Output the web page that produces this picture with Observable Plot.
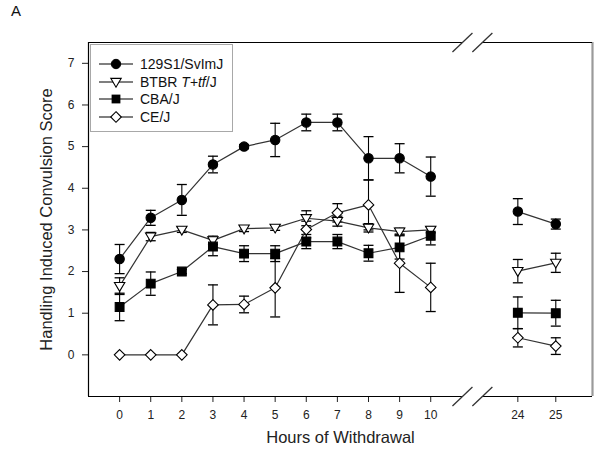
<!DOCTYPE html>
<html>
<head>
<meta charset="utf-8">
<script src="https://cdn.jsdelivr.net/npm/d3@7"></script>
<script src="https://cdn.jsdelivr.net/npm/@observablehq/plot@0.6"></script>
<style>
  body { margin: 0; background: #fff; font-family: "Liberation Sans", Arial, sans-serif; }
  #wrap { position: relative; width: 600px; height: 460px; }
  #panel { position: absolute; left: 11px; top: 2px; font-size: 15px; color: #111; }
  #legend { position: absolute; left: 90px; top: 44px; width: 143px; height: 88px; box-sizing: border-box;
            border: 1.5px solid #a8a8a8; background: #fff; }
  .lrow { position: absolute; left: 0; height: 18px; width: 140px; }
  .lrow svg { position: absolute; left: 8px; top: 0; }
  .lrow span { position: absolute; left: 49px; top: 0; line-height: 18px; font-size: 14px; color: #111; white-space: nowrap; }
</style>
</head>
<body>
<div id="wrap">
  <div id="chart"></div>
  <div id="panel">A</div>
  <div id="legend"></div>
</div>
<script>
// ---- data ----
const hours = [0, 1, 2, 3, 4, 5, 6, 7, 8, 9, 10, 24, 25];
const seriesNames = ["129S1/SvImJ", "BTBR T+tf/J", "CBA/J", "CE/J"];
const s129 = [2.30, 3.29, 3.72, 4.57, 5.00, 5.16, 5.58, 5.58, 4.72, 4.72, 4.28, 3.44, 3.14];
const s129Err = [0.35, 0.18, 0.37, 0.20, 0.05, 0.40, 0.20, 0.20, 0.52, 0.35, 0.47, 0.31, 0.12];
const btbr = [1.65, 2.84, 3.00, 2.75, 3.03, 3.05, 3.28, 3.21, 3.05, 2.96, 3.00, 2.01, 2.21];
const btbrErr = [0.20, 0.10, 0.06, 0.10, 0.07, 0.06, 0.18, 0.12, 0.10, 0.08, 0.07, 0.28, 0.23];
const cba = [1.15, 1.71, 2.00, 2.60, 2.43, 2.43, 2.72, 2.72, 2.44, 2.58, 2.86, 1.01, 1.00];
const cbaErr = [0.33, 0.28, 0.05, 0.22, 0.19, 0.19, 0.17, 0.17, 0.19, 0.28, 0.22, 0.38, 0.31];
const ce = [0, 0, 0, 1.20, 1.21, 1.61, 3.01, 3.41, 3.60, 2.20, 1.62, 0.41, 0.21];
const ceErr = [0, 0, 0, 0.48, 0.20, 0.70, 0.20, 0.22, 0.60, 0.70, 0.58, 0.22, 0.20];
const yTicks = [0, 1, 2, 3, 4, 5, 6, 7];

// broken x axis: hours 0-10 on one segment, 24-25 after the break
const pos = h => h <= 10 ? h : 12.8 + (h - 24) * 1.22;
const xDomain = [-1, 15.2];
const yDomain = [-1, 7.5];
const breakGap = [11.02, 11.66];

const values = [s129, btbr, cba, ce];
const errs = [s129Err, btbrErr, cbaErr, ceErr];
const rows = [];
seriesNames.forEach((s, k) => hours.forEach((h, i) => rows.push({
  series: s, h, xp: pos(h), v: values[k][i], err: errs[k][i],
  lo: values[k][i] - errs[k][i], hi: values[k][i] + errs[k][i],
  seg: s + (h > 10 ? "-b" : "-a")
})));
const tickPos = hours.map(pos);
const tickLabel = new Map(tickPos.map((p, i) => [p, String(hours[i])]));

// ---- symbols ----
const circleSym = { draw(c) { c.moveTo(4.7, 0); c.arc(0, 0, 4.7, 0, 2 * Math.PI); c.closePath(); } };
const squareSym = { draw(c) { c.rect(-4.4, -4.4, 8.8, 8.8); } };
const triDownSym = { draw(c) { c.moveTo(-5.2, -3.6); c.lineTo(5.2, -3.6); c.lineTo(0, 5.2); c.closePath(); } };
const diamondSym = { draw(c) { c.moveTo(0, -5.3); c.lineTo(5.3, 0); c.lineTo(0, 5.3); c.lineTo(-5.3, 0); c.closePath(); } };
const capSym = { draw(c) { c.moveTo(-5, 0); c.lineTo(5, 0); } };
const slashSym = { draw(c) { c.moveTo(-10, 9.5); c.lineTo(10, -9.5); } };
const styles = [
  { sym: circleSym, fill: "black" },
  { sym: triDownSym, fill: "white" },
  { sym: squareSym, fill: "black" },
  { sym: diamondSym, fill: "white" }
];

const errRows = rows.filter(d => d.err > 0);

const chart = Plot.plot({
  width: 600, height: 460,
  marginLeft: 88, marginRight: 8, marginTop: 42, marginBottom: 64,
  style: { fontFamily: "Liberation Sans, Arial, sans-serif", fontSize: "12px", color: "#222", background: "white" },
  x: { domain: xDomain, ticks: tickPos, tickFormat: d => tickLabel.get(d), tickSize: 6, tickPadding: 8, label: null },
  y: { domain: yDomain, ticks: yTicks, tickSize: 6, tickPadding: 8, label: null },
  marks: [
    // frame
    Plot.ruleX([xDomain[0]], { y1: yDomain[0], y2: yDomain[1], stroke: "black", strokeWidth: 1.2 }),
    Plot.ruleX([xDomain[1]], { y1: yDomain[0], y2: yDomain[1], stroke: "#9a9a9a", strokeWidth: 2.2 }),
    Plot.ruleY([yDomain[0], yDomain[1]], { x1: xDomain[0], x2: breakGap[0], stroke: "black", strokeWidth: 1.2 }),
    Plot.ruleY([yDomain[0], yDomain[1]], { x1: breakGap[1], x2: xDomain[1], stroke: "black", strokeWidth: 1.2 }),
    Plot.dot(breakGap.flatMap(x => yDomain.map(y => ({ x, y }))), { x: "x", y: "y", symbol: slashSym, stroke: "#333", strokeWidth: 1.3 }),
    // error bars
    Plot.ruleX(errRows, { x: "xp", y1: "lo", y2: "hi", stroke: "black", strokeWidth: 1.1 }),
    Plot.dot(errRows, { x: "xp", y: "hi", symbol: capSym, stroke: "black", strokeWidth: 1.3 }),
    Plot.dot(errRows, { x: "xp", y: "lo", symbol: capSym, stroke: "black", strokeWidth: 1.3 }),
    // lines
    Plot.line(rows, { x: "xp", y: "v", z: "seg", stroke: "#333", strokeWidth: 1.2 }),
    // markers
    ...seriesNames.map((s, k) => Plot.dot(rows.filter(d => d.series === s), {
      x: "xp", y: "v", symbol: styles[k].sym, fill: styles[k].fill, stroke: "black", strokeWidth: 1.1
    })),
    // axis titles
    Plot.text(["Hours of Withdrawal"], { frameAnchor: "bottom", text: d => d, dy: 46, fontSize: 16.5, fill: "#222" }),
    Plot.text(["Handling Induced Convulsion Score"], { frameAnchor: "left", textAnchor: "middle", text: d => d, dx: -42, rotate: -90, fontSize: 16.5, fill: "#222" })
  ]
});
document.getElementById("chart").appendChild(chart);

// ---- legend ----
const legend = document.getElementById("legend");
const rowTops = [9.5, 27.5, 45.3, 63];
const markerSvg = [
  '<circle cx="17" cy="9" r="4.7" fill="black" stroke="black"/>',
  '<path d="M11.8,5.4 L22.2,5.4 L17,14.2 Z" fill="white" stroke="black" stroke-width="1.1"/>',
  '<rect x="12.6" y="4.6" width="8.8" height="8.8" fill="black"/>',
  '<path d="M17,3.7 L22.3,9 L17,14.3 L11.7,9 Z" fill="white" stroke="black" stroke-width="1.1"/>'
];
const labelHtml = [
  "129S1/SvImJ",
  'BTBR <i>T+tf</i>/J',
  "CBA/J",
  "CE/J"
];
seriesNames.forEach((s, k) => {
  const row = document.createElement("div");
  row.className = "lrow";
  row.style.top = rowTops[k] + "px";
  row.innerHTML = '<svg width="34" height="18"><line x1="0" y1="9" x2="34" y2="9" stroke="black" stroke-width="1.2"/>' +
    markerSvg[k] + '</svg><span>' + labelHtml[k] + '</span>';
  legend.appendChild(row);
});
</script>
</body>
</html>
